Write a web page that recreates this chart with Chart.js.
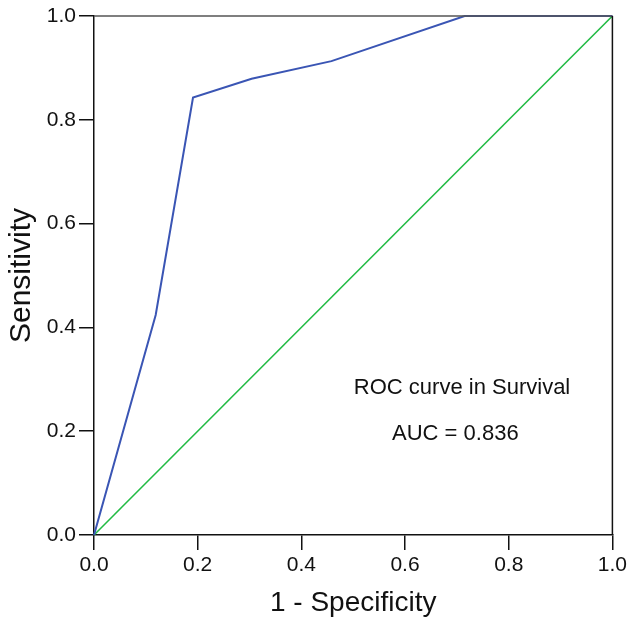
<!DOCTYPE html>
<html>
<head>
<meta charset="utf-8">
<script src="https://cdn.jsdelivr.net/npm/chart.js@4/dist/chart.umd.min.js"></script>
<style>
  html, body { margin: 0; padding: 0; background: #ffffff; }
  #wrap { width: 630px; height: 622px; }
</style>
</head>
<body>
<div id="wrap"><canvas id="c" width="630" height="622"></canvas></div>
<script>
// ---- data ----
const rocFpr = [0, 0.119, 0.191, 0.304, 0.458, 0.715, 1.0];
const rocTpr = [0, 0.424, 0.843, 0.879, 0.913, 1.0, 1.0];
const refFpr = [0, 1];
const refTpr = [0, 1];
const tickValues = [0, 0.2, 0.4, 0.6, 0.8, 1.0];
const xTitle = '1 - Specificity';
const yTitle = 'Sensitivity';
const noteLines = ['ROC curve in Survival', 'AUC = 0.836'];
const notePosX = [0.71, 0.697];
const notePosY = [0.283, 0.195];

const FONT = "'Liberation Sans', Arial, Helvetica, sans-serif";

const toPts = (xs, ys) => xs.map((x, i) => ({x: x, y: ys[i]}));

const boxPlugin = {
  id: 'box',
  afterDatasetsDraw(chart) {
    const {ctx, chartArea: a} = chart;
    ctx.save();
    ctx.lineWidth = 1.5;
    ctx.strokeStyle = '#555555';
    ctx.beginPath();
    ctx.moveTo(a.left, a.top);
    ctx.lineTo(a.right, a.top);
    ctx.stroke();
    ctx.strokeStyle = '#111111';
    ctx.beginPath();
    ctx.moveTo(a.right, a.top);
    ctx.lineTo(a.right, a.bottom);
    ctx.stroke();
    ctx.restore();
  }
};

const notePlugin = {
  id: 'note',
  afterDraw(chart) {
    const {ctx, scales} = chart;
    ctx.save();
    ctx.fillStyle = '#111111';
    ctx.font = '22px ' + FONT;
    ctx.textAlign = 'center';
    ctx.textBaseline = 'middle';
    noteLines.forEach((t, i) => {
      ctx.fillText(t, scales.x.getPixelForValue(notePosX[i]), scales.y.getPixelForValue(notePosY[i]));
    });
    ctx.restore();
  }
};

new Chart(document.getElementById('c'), {
  type: 'scatter',
  data: {
    datasets: [
      {
        data: toPts(rocFpr, rocTpr),
        showLine: true,
        borderColor: '#3A55B4',
        borderWidth: 2,
        pointRadius: 0,
        tension: 0,
        clip: false
      },
      {
        data: toPts(refFpr, refTpr),
        showLine: true,
        borderColor: '#22BB44',
        borderWidth: 1.6,
        pointRadius: 0,
        tension: 0,
        clip: false
      }
    ]
  },
  options: {
    responsive: false,
    animation: false,
    devicePixelRatio: 1,
    layout: { padding: { left: 0, right: 17, top: 16, bottom: 0 } },
    plugins: { legend: { display: false }, tooltip: { enabled: false } },
    scales: {
      x: {
        type: 'linear',
        min: 0, max: 1,
        afterBuildTicks(s) { s.ticks = tickValues.map(v => ({value: v})); },
        afterFit(s) { s.height = 87; },
        grid: { display: true, drawOnChartArea: false, drawTicks: true, tickLength: 15, color: '#111111', lineWidth: 1.5 },
        border: { display: true, color: '#111111', width: 1.5 },
        ticks: { color: '#111111', padding: 3, font: { family: FONT, size: 21, lineHeight: 1.2 }, callback: v => v.toFixed(1), maxRotation: 0 },
        title: { display: true, text: xTitle, color: '#111111', font: { family: FONT, size: 28, lineHeight: 1.2 }, padding: { top: 0, bottom: 2 } }
      },
      y: {
        type: 'linear',
        min: 0, max: 1,
        afterBuildTicks(s) { s.ticks = tickValues.map(v => ({value: v})); },
        afterFit(s) { s.width = 94; },
        grid: { display: true, drawOnChartArea: false, drawTicks: true, tickLength: 15, color: '#111111', lineWidth: 1.5 },
        border: { display: true, color: '#111111', width: 1.5 },
        ticks: { color: '#111111', padding: 3, font: { family: FONT, size: 21, lineHeight: 1.2 }, callback: v => v.toFixed(1) },
        title: { display: true, text: yTitle, color: '#111111', font: { family: FONT, size: 30, lineHeight: 1.2 }, padding: { top: 4, bottom: 0 } }
      }
    }
  },
  plugins: [boxPlugin, notePlugin]
});
</script>
</body>
</html>
